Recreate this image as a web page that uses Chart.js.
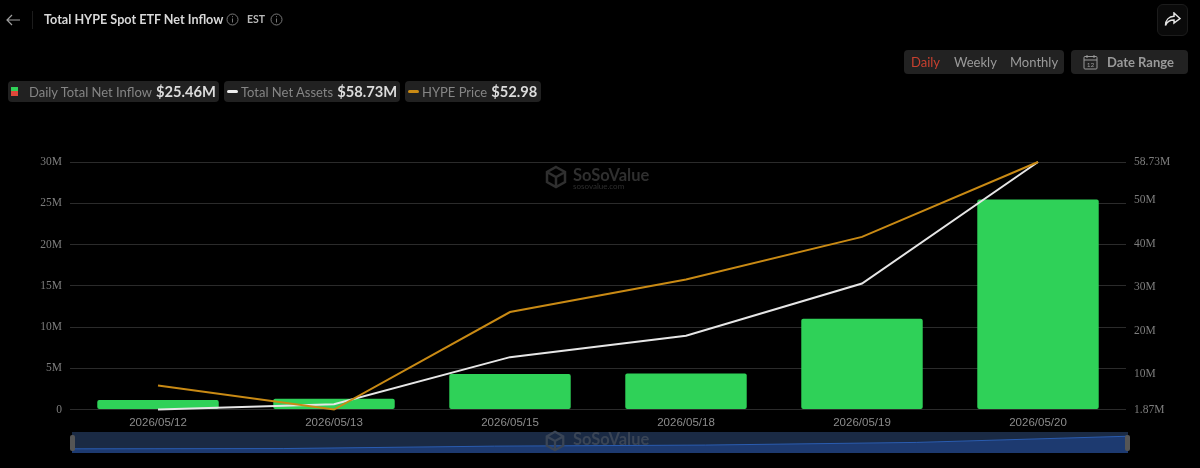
<!DOCTYPE html>
<html lang="en">
  <head>
    <meta charset="UTF-8" />
    <title>Total HYPE Spot ETF Net Inflow</title>
    <style>
      html, body { margin: 0; background: #000; width: 1200px; height: 468px; overflow: hidden; }
      body { position: relative; font-family: Lato, sans-serif; color: #9a9a9a; }
      .abs { position: absolute; white-space: nowrap; }
      .chip { position: absolute; top: 81px; height: 21px; background: #212121; border-radius: 4px; line-height: 21px; font-size: 13px; color: #858585; white-space: nowrap; }
      .chip b { color: #dcdcdc; font-size: 14.7px; font-weight: 700; margin-left: 4px; }
      .box { position: absolute; background: #222; border-radius: 4px; height: 24px; line-height: 24px; font-size: 13px; }
      canvas { position: absolute; }
      .mark { position: absolute; color: #2f2f2f; font-weight: 700; line-height: 1; }
    </style>
  </head>
  <body>
    <canvas id="chart" width="1200" height="468" style="left:0;top:0"></canvas>
    <canvas id="nav" width="1056" height="21" style="left:72px;top:432px"></canvas>

    <svg class="abs" style="left:5px;top:12px" width="16" height="16" viewBox="0 0 16 16" fill="none" stroke="#a0a0a0" stroke-width="1.2"><path d="M15 8H2M7 3L2 8l5 5"/></svg>
    <div class="abs" style="left:32px;top:11px;width:1px;height:18px;background:#1c1c1c"></div>
    <div class="abs" style="left:44px;top:12px;font-size:12.6px;font-weight:700;color:#d8d8d8">Total HYPE Spot ETF Net Inflow</div>
    <svg class="abs" style="left:226px;top:13px" width="13" height="13" viewBox="0 0 13 13" fill="none" stroke="#777"><circle cx="6.5" cy="6.5" r="5.5"/><path d="M6.5 5.5v4M6.5 3.2v1"/></svg>
    <div class="abs" style="left:247px;top:13px;font-size:10.5px;font-weight:700;color:#b8b8b8">EST</div>
    <svg class="abs" style="left:270px;top:13px" width="13" height="13" viewBox="0 0 13 13" fill="none" stroke="#777"><circle cx="6.5" cy="6.5" r="5.5"/><path d="M6.5 5.5v4M6.5 3.2v1"/></svg>

    <div class="abs" style="left:1157px;top:4px;width:29px;height:30px;border:1px solid #1c1c1c;border-radius:6px;background:#0a0a0a"></div>
    <svg class="abs" style="left:1164px;top:12px" width="17" height="15" viewBox="0 0 17 15" fill="none" stroke="#e4e4e4" stroke-width="1.5"><path d="M10 1l6 5.5L10 11V8C6 8 3 9.5 1.5 13.5 1.5 8 5 4.5 10 4.3z"/></svg>

    <div class="box" style="left:904px;top:50px;width:160px"></div>
    <div class="abs" style="left:911px;top:54px;font-size:13px;color:#c8402f">Daily</div>
    <div class="abs" style="left:954px;top:54px;font-size:13px">Weekly</div>
    <div class="abs" style="left:1010px;top:54px;font-size:13px">Monthly</div>
    <div class="box" style="left:1071px;top:50px;width:117px"></div>
    <svg class="abs" style="left:1083px;top:54px" width="15" height="16" viewBox="0 0 15 16" fill="none" stroke="#9a9a9a"><rect x="1" y="2.5" width="13" height="12.5" rx="1"/><path d="M1 6h13M4 1v3M11 1v3"/><text x="7.5" y="13" font-size="6.5" fill="#9a9a9a" stroke="none" text-anchor="middle">12</text></svg>
    <div class="abs" style="left:1107px;top:54px;font-size:13px;font-weight:700">Date Range</div>

    <div class="chip" style="left:8px;width:211px">
      <span class="abs" style="left:3px;top:6px;width:7px;height:4px;background:#2fd158"></span>
      <span class="abs" style="left:3px;top:10px;width:7px;height:5px;background:#e0483a"></span>
      <span style="margin-left:21px">Daily Total Net Inflow</span><b>$25.46M</b>
    </div>
    <div class="chip" style="left:224px;width:176px">
      <span class="abs" style="left:3px;top:9px;width:11px;height:3px;background:#eee;border-radius:2px"></span>
      <span style="margin-left:17px">Total Net Assets</span><b>$58.73M</b>
    </div>
    <div class="chip" style="left:405px;width:136px">
      <span class="abs" style="left:3px;top:9px;width:11px;height:3px;background:#c98a14;border-radius:2px"></span>
      <span style="margin-left:17px">HYPE Price</span><b>$52.98</b>
    </div>

    <svg class="abs" style="left:544px;top:165px" width="24" height="24" viewBox="0 0 24 24" fill="none" stroke="#2f2f2f" stroke-width="2.5"><path d="M12 2l9 5v10l-9 5-9-5V7zM3 7l9 5 9-5M12 12v10"/></svg>
    <div class="mark" style="left:573px;top:167px;font-size:16.5px">SoSoValue</div>
    <div class="mark" style="left:573px;top:182px;font-size:8px;font-weight:400">sosovalue.com</div>
    <svg class="abs" style="left:544px;top:430px" width="22" height="22" viewBox="0 0 24 24" fill="none" stroke="#3a4556" stroke-width="2.5"><path d="M12 2l9 5v10l-9 5-9-5V7zM3 7l9 5 9-5M12 12v10"/></svg>
    <div class="mark" style="left:573px;top:431px;font-size:16.5px;color:#3a4556">SoSoValue</div>

    <div class="abs" style="left:70px;top:435px;width:5px;height:16px;background:#555;border-radius:2px"></div>
    <div class="abs" style="left:1125px;top:435px;width:5px;height:16px;background:#555;border-radius:2px"></div>

    <script src="https://cdn.jsdelivr.net/npm/chart.js"></script>
    <script>
      const dates = ["2026/05/12", "2026/05/13", "2026/05/15", "2026/05/18", "2026/05/19", "2026/05/20"];
      const netInflow = [1.15, 1.3, 4.3, 4.35, 11.0, 25.46];
      const netAssets = [1.87, 3.1, 13.9, 18.8, 30.8, 58.73];
      const hypePrice = [39.9, 38.5, 44.2, 46.1, 48.6, 52.98];
      const leftTicks = [0, 5, 10, 15, 20, 25, 30];
      const rightTicks = [1.87, 10, 20, 30, 40, 50, 58.73];

      const AXIS_GREY = "#7d7d7d";
      const GRID = "#2b2b2b";

      new Chart(document.getElementById("chart"), {
        type: "bar",
        data: {
          labels: dates,
          datasets: [
            { type: "line", data: hypePrice, yAxisID: "price", borderColor: "#c98a14", borderWidth: 2, pointRadius: 0, tension: 0, clip: false, order: 1 },
            { type: "line", data: netAssets, yAxisID: "assets", borderColor: "#e6e6e6", borderWidth: 2, pointRadius: 0, tension: 0, clip: false, order: 2 },
            { data: netInflow, yAxisID: "inflow", backgroundColor: "#2fd158", barPercentage: 1, categoryPercentage: 0.69, borderRadius: 2, borderSkipped: false, order: 3 },
          ],
        },
        options: {
          responsive: false,
          animation: false,
          layout: { padding: { top: 162, left: 0, right: 0, bottom: 0 } },
          plugins: { legend: { display: false }, tooltip: { enabled: false } },
          scales: {
            x: {
              grid: { display: false, drawTicks: false },
              border: { display: false },
              ticks: { color: "#8c8c8c", padding: 6, maxRotation: 0, font: { family: "Liberation Sans", size: 11.5 } },
              afterFit: (s) => { s.height = 58.5; },
            },
            inflow: {
              position: "left",
              min: 0,
              max: 30,
              afterBuildTicks: (s) => { s.ticks = leftTicks.map((value) => ({ value })); },
              grid: { color: GRID, drawTicks: false },
              border: { display: false },
              ticks: {
                color: AXIS_GREY,
                padding: 8,
                font: { family: "Liberation Serif", size: 11.5 },
                callback: (v) => (v === 0 ? "0" : v + "M"),
              },
              afterFit: (s) => { s.width = 70; },
            },
            assets: {
              position: "right",
              min: 1.87,
              max: 58.73,
              afterBuildTicks: (s) => { s.ticks = rightTicks.map((value) => ({ value })); },
              grid: { display: false, drawTicks: false },
              border: { display: false },
              ticks: {
                color: AXIS_GREY,
                padding: 8,
                font: { family: "Liberation Serif", size: 11.5 },
                callback: (v) => v + "M",
              },
              afterFit: (s) => { s.width = 74; },
            },
            price: { display: false, min: 38.5, max: 52.98 },
          },
        },
      });

      // range slider strip under the chart
      new Chart(document.getElementById("nav"), {
        type: "line",
        data: {
          labels: dates,
          datasets: [
            { data: netAssets, borderColor: "#2a5cb0", borderWidth: 1, backgroundColor: "#1d3a70", fill: "start", pointRadius: 0, tension: 0 },
          ],
        },
        options: {
          responsive: false,
          animation: false,
          layout: { padding: 0 },
          plugins: { legend: { display: false }, tooltip: { enabled: false } },
          scales: {
            x: { display: false, offset: false },
            y: { display: false, min: -17, max: 77.8 },
          },
        },
        plugins: [{
          id: "navBg",
          beforeDraw: (c) => {
            c.ctx.fillStyle = "#1a2a44";
            c.ctx.fillRect(0, 0, c.width, c.height);
          },
        }],
      });
    </script>
  </body>
</html>
